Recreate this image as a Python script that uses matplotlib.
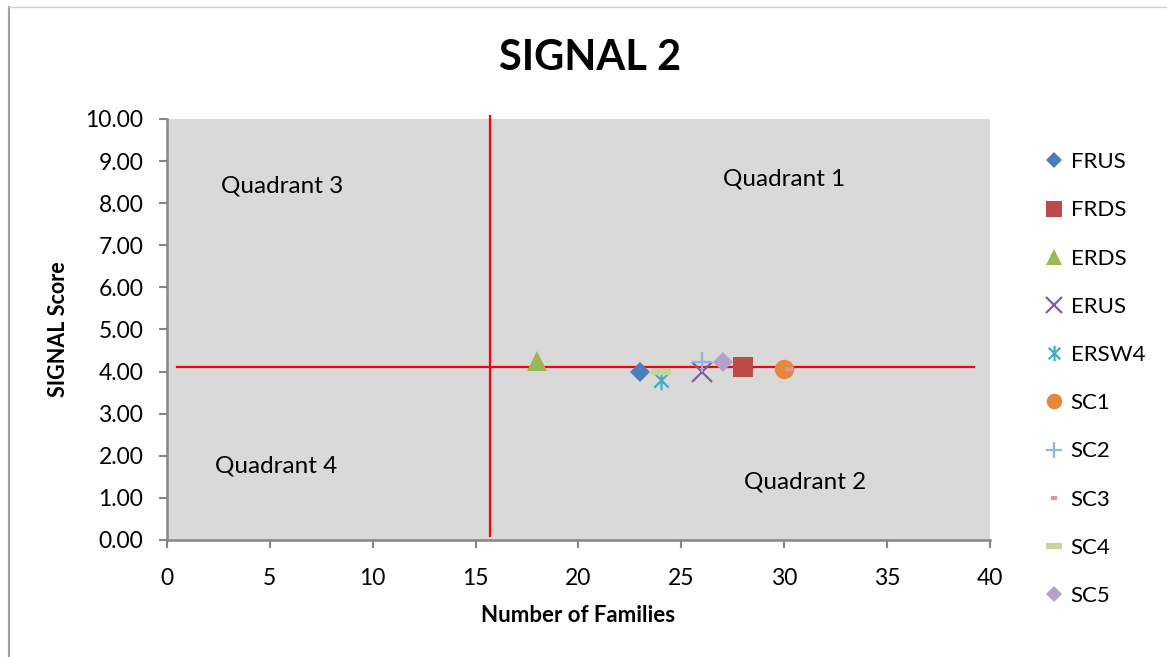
import matplotlib
matplotlib.use('Agg')
import matplotlib.pyplot as plt
from matplotlib.path import Path
from matplotlib.lines import Line2D

plt.rcParams['font.family'] = ['Lato', 'DejaVu Sans']

# sites: number of families vs SIGNAL score
sites = ['FRUS', 'FRDS', 'ERDS', 'ERUS', 'ERSW4', 'SC1', 'SC2', 'SC3', 'SC4', 'SC5']
families = [23, 28, 18, 26, 24, 30, 26, 30.25, 24, 27]
scores = [4.00, 4.10, 4.25, 4.00, 3.80, 4.06, 4.22, 4.05, 4.00, 4.22]

# quadrant split lines
split_families = 15.7
split_score = 4.1

quadrant_labels = ['Quadrant 1', 'Quadrant 2', 'Quadrant 3', 'Quadrant 4']
quadrant_pos = [(30.0, 8.57), (31.0, 1.38), (5.6, 8.41), (5.3, 1.76)]

x_ticks = list(range(0, 45, 5))
y_ticks = list(range(0, 11))

# excel-style asterisk: an x with a vertical bar
star = Path([(-1, -1), (1, 1), (-1, 1), (1, -1), (0, -1.35), (0, 1.35)],
            [Path.MOVETO, Path.LINETO, Path.MOVETO, Path.LINETO, Path.MOVETO, Path.LINETO])

styles = {
    'FRUS':  dict(marker='D', ms=10, color='#4A7EBB', mfc='#4A7EBB', mew=0),
    'FRDS':  dict(marker='s', ms=14, color='#BE4B48', mfc='#BE4B48', mew=0),
    'ERDS':  dict(marker='^', ms=15, color='#98B954', mfc='#98B954', mew=0),
    'ERUS':  dict(marker='x', ms=15, color='#7D60A0', mew=1.6),
    'ERSW4': dict(marker=star, ms=14, color='#46AAC5', mfc='none', mew=1.6),
    'SC1':   dict(marker='o', ms=14, color='#E6883C', mfc='#E6883C', mew=0),
    'SC2':   dict(marker='+', ms=15, color='#95B3D7', mew=1.6),
    'SC3':   dict(marker='_', ms=6, color='#D99694', mew=2.8),
    'SC4':   dict(marker='_', ms=14, color='#C3D69B', mew=4.5),
    'SC5':   dict(marker='D', ms=10, color='#B3A2C7', mfc='#B3A2C7', mew=0),
}

fig = plt.figure(figsize=(11.67, 6.57), dpi=100)
ax = fig.add_axes([0.1431, 0.1781, 0.7052, 0.6408])
ax.set_facecolor('#D9D9D9')

for name, fx, sc in zip(sites, families, scores):
    ax.plot([fx], [sc], linestyle='none', label=name, zorder=3, **styles[name])

ax.plot([0.5, 39.2], [split_score, split_score], color='red', lw=1.6, zorder=2)
ax.plot([split_families, split_families], [0.1, 10.07], color='red', lw=1.6,
        zorder=2, clip_on=False)

for txt, (qx, qy) in zip(quadrant_labels, quadrant_pos):
    ax.text(qx, qy, txt, fontsize=17.5, ha='center', va='center')

ax.set_xlim(0, 40)
ax.set_ylim(0, 10)
ax.set_xticks(x_ticks)
ax.set_yticks(y_ticks)
ax.set_yticklabels([f'{v:.2f}' for v in y_ticks])
ax.tick_params(axis='both', direction='out', length=6, width=1.5, color='#868686',
               labelsize=16.5)
ax.tick_params(axis='y', pad=11)
ax.tick_params(axis='x', pad=14)

for side in ['top', 'right']:
    ax.spines[side].set_visible(False)
for side in ['left', 'bottom']:
    ax.spines[side].set_color('#868686')
    ax.spines[side].set_linewidth(1.8)

ax.set_xlabel('Number of Families', fontsize=16, fontweight='bold', labelpad=12)
ax.set_ylabel('SIGNAL Score', fontsize=15.5, fontweight='bold', labelpad=12)
fig.text(0.506, 0.912, 'SIGNAL 2', fontsize=30, fontweight='bold', ha='center', va='center')

handles, labels = ax.get_legend_handles_labels()
fig.legend(handles, labels, loc='upper left', bbox_to_anchor=(0.8775, 0.799),
           frameon=False, fontsize=16, labelspacing=1.27, handlelength=0.9,
           handletextpad=0.3, markerscale=0.8)

# outer chart border (left and top edges)
fig.add_artist(Line2D([0.0077, 0.0077], [0, 0.9893], color='#A0A0A0', lw=1.5))
fig.add_artist(Line2D([0.0077, 1.0], [0.9893, 0.9893], color='#D0D0D0', lw=1.0))

fig.savefig('out.png', dpi=100)
